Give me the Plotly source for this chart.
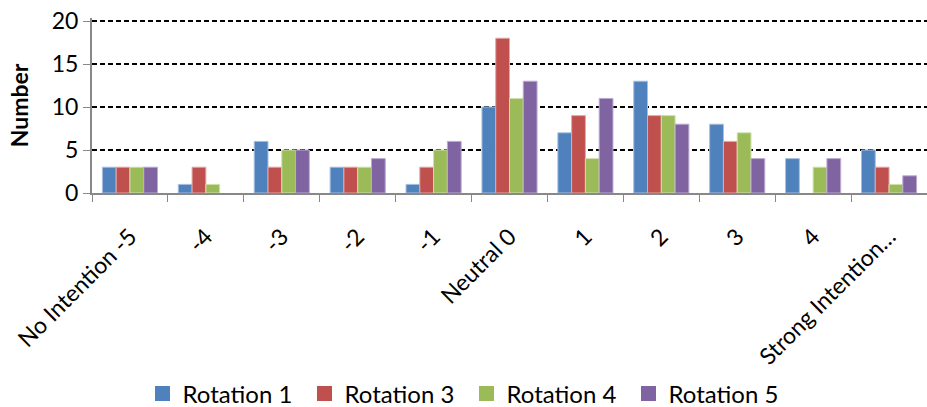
import plotly.graph_objects as go

categories = ["No Intention -5", "-4", "-3", "-2", "-1", "Neutral 0", "1", "2", "3", "4", "Strong Intention…"]
rotation1 = [3, 1, 6, 3, 1, 10, 7, 13, 8, 4, 5]
rotation3 = [3, 3, 3, 3, 3, 18, 9, 9, 6, 0, 3]
rotation4 = [3, 1, 5, 3, 5, 11, 4, 9, 7, 3, 1]
rotation5 = [3, 0, 5, 4, 6, 13, 11, 8, 4, 4, 2]
series_names = ["Rotation 1", "Rotation 3", "Rotation 4", "Rotation 5"]
colors = ["#4F81BD", "#C0504D", "#9BBB59", "#8064A2"]
borders = ["#A5BFE0", "#E2A9A7", "#CFE0AE", "#BCAAD2"]

fig = go.Figure()
for name, vals, c, b in zip(series_names, [rotation1, rotation3, rotation4, rotation5], colors, borders):
    fig.add_trace(go.Bar(
        x=categories, y=vals, name=name, showlegend=False,
        marker=dict(color=c, line=dict(color=b, width=[1 if v > 0 else 0 for v in vals])),
    ))
# legend entries with larger square swatches
for name, c in zip(series_names, colors):
    fig.add_trace(go.Scatter(
        x=[None], y=[None], mode="markers", name=name,
        marker=dict(symbol="square", size=15, color=c),
    ))

font = "Lato"
fig.update_layout(
    width=927, height=407,
    margin=dict(l=92, r=0, t=18, b=214),
    paper_bgcolor="white", plot_bgcolor="white",
    barmode="group", bargap=0.274, bargroupgap=0.0,
    font=dict(family=font, color="black"),
    showlegend=True,
    legend=dict(orientation="h", x=0.5 + 3 / 927, xanchor="center", xref="container",
                y=1 - 394 / 407, yanchor="middle", yref="container",
                font=dict(size=24, family=font), itemwidth=30,
                entrywidth=117, entrywidthmode="pixels", traceorder="normal"),
    xaxis=dict(type="category", tickangle=-45, tickfont=dict(size=23, family=font),
               automargin=False, ticklabelstandoff=19,
               showline=True, linecolor="#888888", linewidth=2,
               ticks="outside", tickson="boundaries", ticklen=7, tickcolor="#888888",
               showgrid=False),
    yaxis=dict(range=[0, 20.35], tickvals=[0, 5, 10, 15, 20], tickfont=dict(size=23, family=font),
               automargin=False,
               showline=True, linecolor="#888888", linewidth=2,
               ticks="outside", ticklen=7, tickcolor="#888888",
               showgrid=True, gridcolor="black", griddash="5px,3px", gridwidth=1.5,
               zeroline=False,
               title=dict(text="<b>Number</b>", font=dict(size=23, family=font), standoff=17)),
)
fig.write_html("out.html", config={"displayModeBar": False},
               post_script="document.body.style.margin='0';")
